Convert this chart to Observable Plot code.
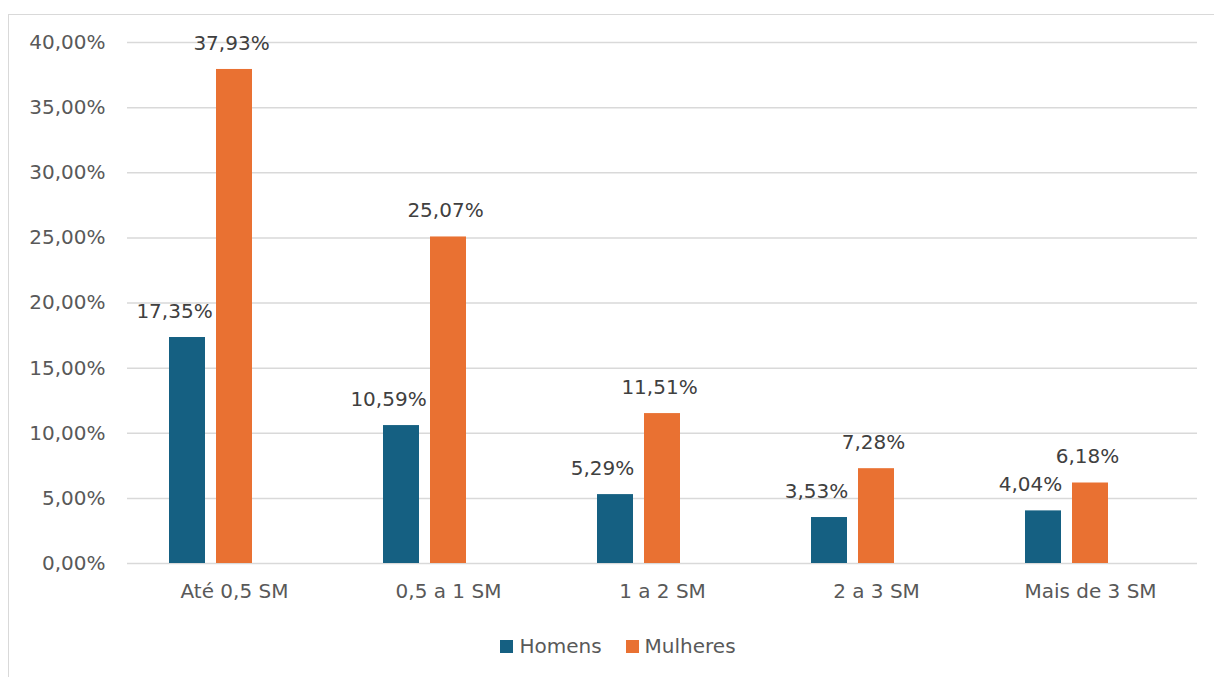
<!DOCTYPE html>
<html>
<head>
<meta charset="utf-8">
<script src="https://cdn.jsdelivr.net/npm/d3@7"></script>
<script src="https://cdn.jsdelivr.net/npm/@observablehq/plot@0.6"></script>
<style>
  html, body { margin: 0; padding: 0; background: #fff; overflow: hidden; }
  body { width: 1214px; height: 677px; position: relative; font-family: "DejaVu Sans", sans-serif; color: #595959; }
  #frame { position: absolute; left: 8px; top: 14px; width: 1230px; height: 700px; border: 1px solid #d9d9d9; box-sizing: border-box; }
  #chart { position: absolute; left: 0; top: 0; }
  #legend { position: absolute; top: 634px; left: 0; width: 1236px; display: flex; justify-content: center; gap: 24px; font-size: 20px; color: #595959; }
  #legend span.item { display: flex; align-items: center; gap: 6px; }
  #legend span.sw { width: 13px; height: 13px; display: inline-block; }
</style>
</head>
<body>
<div id="frame"></div>
<div id="chart"></div>
<div id="legend"></div>
<script>
const categories = ["Até 0,5 SM", "0,5 a 1 SM", "1 a 2 SM", "2 a 3 SM", "Mais de 3 SM"];
const series = ["Homens", "Mulheres"];
const homens = [17.35, 10.59, 5.29, 3.53, 4.04];
const mulheres = [37.93, 25.07, 11.51, 7.28, 6.18];
const yTicks = [0, 5, 10, 15, 20, 25, 30, 35, 40];
const colors = ["#156082", "#E97132"];

const data = categories.flatMap((c, i) => [
  {category: c, series: "Homens", value: homens[i]},
  {category: c, series: "Mulheres", value: mulheres[i]}
]);
const fmt = v => v.toFixed(2).replace(".", ",") + "%";

const plot = Plot.plot({
  width: 1214,
  height: 615,
  marginTop: 42,
  marginBottom: 52,
  marginLeft: 126,
  marginRight: 16,
  style: {fontFamily: "DejaVu Sans, sans-serif", fontSize: "20px", color: "#595959", background: "transparent"},
  fx: {domain: categories, padding: 0, label: null, axis: "bottom", tickSize: 0, tickPadding: 20},
  x: {domain: [...series, "_"], paddingInner: 0.229, paddingOuter: 0.849, axis: null},
  y: {domain: [0, 40], axis: null},
  color: {domain: series, range: colors},
  marks: [
    Plot.gridY(yTicks, {stroke: "#d9d9d9", strokeOpacity: 1, strokeWidth: 1.5}),
    Plot.axisY(yTicks, {tickSize: 0, tickPadding: 22, tickFormat: fmt, fill: "#595959", fontSize: 20, label: null}),
    Plot.barY(data, {fx: "category", x: "series", y: "value", fill: "series"}),
    Plot.text(data.filter(d => d.series === "Homens"), {fx: "category", x: "series", y: "value", text: d => fmt(d.value), dy: -26, dx: -13, fill: "#404040", fontSize: 20}),
    Plot.text(data.filter(d => d.series === "Mulheres"), {fx: "category", x: "series", y: "value", text: d => fmt(d.value), dy: -26, dx: -3, fill: "#404040", fontSize: 20})
  ]
});
document.getElementById("chart").appendChild(plot);

const legend = document.getElementById("legend");
series.forEach((s, i) => {
  const item = document.createElement("span");
  item.className = "item";
  const sw = document.createElement("span");
  sw.className = "sw";
  sw.style.background = colors[i];
  item.appendChild(sw);
  item.appendChild(document.createTextNode(s));
  legend.appendChild(item);
});
</script>
</body>
</html>
